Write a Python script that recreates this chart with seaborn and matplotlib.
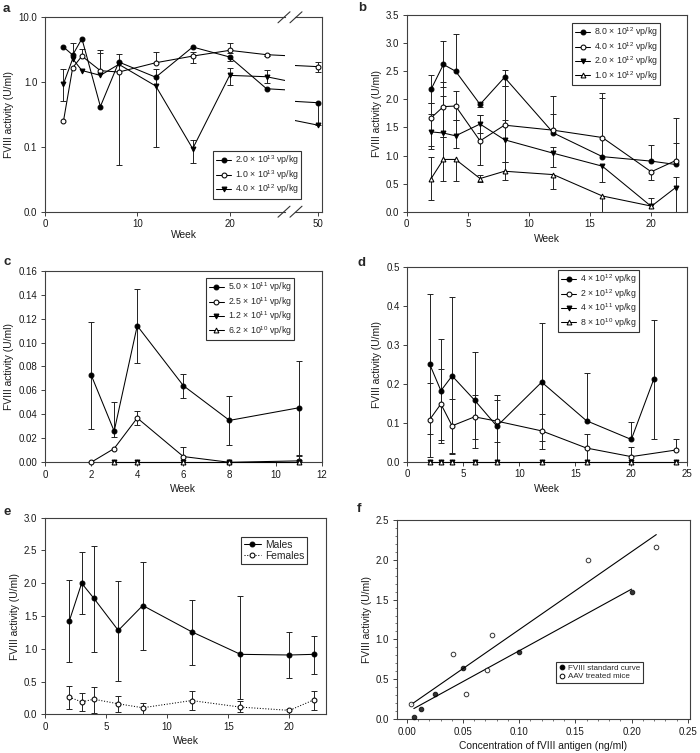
import numpy as np
import pandas as pd
import matplotlib
matplotlib.use("Agg")
import matplotlib.pyplot as plt
import seaborn as sns
from matplotlib.lines import Line2D
from matplotlib.ticker import NullLocator, MultipleLocator

nan = np.nan

# ---------------- data ----------------
# panel a (log scale, broken x axis)
weeks_a = [2, 3, 4, 6, 8, 12, 16, 20, 24, 50]
a_20e13 = [3.48, 2.62, 4.68, 0.42, 2.04, 1.19, 3.48, 2.44, 0.79, 0.48]
a_20e13_lo = [nan, nan, nan, nan, 0.052, nan, nan, 2.10, nan, 0.22]
a_20e13_hi = [nan, 4.0, nan, nan, 2.74, nan, nan, nan, nan, nan]
a_10e13 = [0.25, 1.67, 2.52, 1.50, 1.43, 1.99, 2.52, 3.09, 2.65, 1.73]
a_10e13_lo = [nan, nan, nan, nan, nan, nan, 1.99, 2.80, 2.55, 1.43]
a_10e13_hi = [nan, nan, 3.2, 3.1, nan, 2.94, 2.90, 4.06, 2.75, 2.06]
a_40e12 = [0.94, 2.29, 1.51, 1.27, 1.88, 0.87, 0.094, 1.27, 1.21, 0.216]
a_40e12_lo = [0.51, nan, nan, nan, nan, 0.10, 0.057, 0.90, 0.98, nan]
a_40e12_hi = [1.60, nan, nan, 2.85, nan, 1.60, 0.13, 1.63, 1.53, nan]

# panel b
weeks_b = [2, 3, 4, 6, 8, 12, 16, 20, 22]
b_80e12 = [2.18, 2.62, 2.50, 1.91, 2.39, 1.40, 0.98, 0.90, 0.84]
b_80e12_lo = [1.93, 2.21, nan, 1.87, 2.24, nan, nan, nan, nan]
b_80e12_hi = [2.43, 3.03, 3.17, 1.95, 2.53, 2.05, 2.02, 1.19, 1.22]
b_40e12 = [1.67, 1.87, 1.88, 1.26, 1.54, 1.45, 1.32, 0.71, 0.91]
b_40e12_lo = [1.11, 1.33, 1.63, 0.83, nan, nan, nan, 0.56, nan]
b_40e12_hi = [1.93, 2.31, 2.15, 1.72, 2.24, 1.73, 2.11, nan, 1.66]
b_20e12 = [1.42, 1.40, 1.35, 1.56, 1.28, 1.04, 0.81, 0.095, 0.43]
b_20e12_lo = [1.17, nan, 1.13, 1.40, 0.89, 0.79, 0.52, nan, 0.0]
b_20e12_hi = [1.74, 2.05, 1.64, 1.72, 1.64, 1.15, nan, 0.24, 0.61]
weeks_b4 = [2, 3, 4, 6, 8, 12, 16, 20]
b_10e12 = [0.59, 0.93, 0.93, 0.59, 0.72, 0.66, 0.28, 0.10]
b_10e12_lo = [0.21, 0.54, 0.55, 0.53, 0.56, 0.41, 0.0, nan]
b_10e12_hi = [0.97, 1.33, nan, 0.65, 0.88, nan, nan, nan]

# panel c
weeks_c = [2, 3, 4, 6, 8, 11]
c_50e11 = [0.073, 0.026, 0.114, 0.064, 0.035, 0.0455]
c_50e11_lo = [0.028, 0.021, 0.083, 0.054, 0.0145, 0.006]
c_50e11_hi = [0.117, 0.050, 0.145, 0.074, 0.055, 0.085]
c_25e11 = [0.0, 0.0115, 0.037, 0.0048, 0.0, 0.0012]
c_25e11_lo = [nan, nan, 0.031, nan, nan, nan]
c_25e11_hi = [nan, nan, 0.043, 0.0125, nan, 0.005]
weeks_c2 = [3, 4, 6, 8, 11]
c_12e11 = [0.0, 0.0, 0.0, 0.0, 0.0]
c_62e10 = [0.0, 0.0, 0.0, 0.0, 0.0]

# panel d
weeks_d1 = [2, 3, 4, 6, 8, 12, 16, 20, 22]
d_4e12 = [0.250, 0.182, 0.220, 0.158, 0.091, 0.204, 0.105, 0.057, 0.211]
d_4e12_lo = [0.071, 0.048, 0.023, 0.035, 0.0, 0.052, nan, nan, 0.058]
d_4e12_hi = [0.430, 0.315, 0.422, 0.280, 0.171, 0.355, 0.228, 0.101, 0.364]
weeks_d2 = [2, 3, 4, 6, 8, 12, 16, 20, 24]
d_2e12 = [0.108, 0.148, 0.092, 0.115, 0.104, 0.079, 0.035, 0.013, 0.030]
d_2e12_lo = [0.013, 0.055, 0.020, 0.058, 0.050, 0.033, 0.0, 0.0, nan]
d_2e12_hi = [0.202, 0.238, 0.161, 0.171, 0.159, 0.123, 0.072, 0.038, 0.058]
d_4e11 = [0.0] * 9
d_8e10 = [0.0] * 9

# panel e
weeks_e = [2, 3, 4, 6, 8, 12, 16, 20, 22]
males = [1.43, 2.00, 1.77, 1.28, 1.66, 1.26, 0.915, 0.905, 0.915]
males_lo = [0.80, 1.53, 0.95, 0.51, 0.98, 0.75, 0.23, 0.55, 0.62]
males_hi = [2.05, 2.47, 2.57, 2.03, 2.33, 1.75, 1.80, 1.25, 1.20]
females = [0.26, 0.19, 0.23, 0.16, 0.10, 0.21, 0.11, 0.06, 0.22]
females_lo = [0.08, 0.05, 0.02, 0.04, 0.01, 0.06, 0.03, 0.0, 0.07]
females_hi = [0.43, 0.32, 0.42, 0.28, 0.17, 0.36, 0.20, 0.08, 0.36]

# panel f
std_conc = [0.00625, 0.0125, 0.025, 0.05, 0.1, 0.2]
std_act = [0.03, 0.126, 0.31, 0.64, 0.84, 1.60]
aav_conc = [0.004, 0.041, 0.053, 0.071, 0.076, 0.161, 0.222]
aav_act = [0.19, 0.82, 0.315, 0.61, 1.06, 2.00, 2.16]

# ---------------- style ----------------
sns.set_style("ticks")
plt.rcParams["font.family"] = ["Liberation Sans", "DejaVu Sans"]
plt.rcParams["mathtext.fontset"] = "custom"
plt.rcParams["mathtext.rm"] = "Liberation Sans"
plt.rcParams["mathtext.it"] = "Liberation Sans:italic"
plt.rcParams["mathtext.bf"] = "Liberation Sans:bold"
plt.rcParams.update({
    "axes.edgecolor": "#404040", "axes.linewidth": 0.8,
    "xtick.color": "#404040", "ytick.color": "#404040",
    "xtick.labelcolor": "#1a1a1a", "ytick.labelcolor": "#1a1a1a",
    "xtick.major.size": 3, "ytick.major.size": 3,
    "xtick.major.width": 0.7, "ytick.major.width": 0.7,
    "xtick.major.pad": 2.5, "ytick.major.pad": 2.5,
    "xtick.labelsize": 7, "ytick.labelsize": 7,
    "axes.labelsize": 7.4, "axes.labelcolor": "#1a1a1a",
    "xtick.direction": "out", "ytick.direction": "out",
})

W, H = 700, 753
fig = plt.figure(figsize=(W / 100, H / 100), dpi=100)
EC = "#222222"


def add_ax(l, r, t, b):
    return fig.add_axes([l / W, 1 - b / H, (r - l) / W, (b - t) / H])


def series(ax, x, y, lo, hi, marker, face, label=None, ls="-", clip=False):
    x = np.asarray(x, float)
    y = np.asarray(y, float)
    for b in (lo, hi):
        if b is None:
            continue
        b = np.asarray(b, float)
        m = ~np.isnan(b)
        ax.vlines(x[m], y[m], b[m], color=EC, lw=0.7, zorder=2, clip_on=clip)
        ax.plot(x[m], b[m], ls="none", marker="_", ms=4.6, mew=0.7,
                color=EC, zorder=2, clip_on=clip)
    df = pd.DataFrame({"Week": x, "v": y})
    sns.lineplot(data=df, x="Week", y="v", ax=ax, color="black", lw=0.75,
                 linestyle=ls, marker=marker, markersize=3.5,
                 markerfacecolor=face, markeredgecolor="black",
                 markeredgewidth=0.75, label=label, sort=False,
                 clip_on=clip, zorder=3, legend=False)


LEG_KW = dict(loc="upper left", frameon=True, fancybox=False, framealpha=1,
              edgecolor="#333333", borderpad=0.3, labelspacing=0.08,
              handletextpad=0.4, borderaxespad=0)


def legend(ax, x, y, fs=6.3, handles=None, labels=None, hl=1.8, owner=None):
    if handles is None:
        handles, labels = ax.get_legend_handles_labels()
    target = owner if owner is not None else ax
    lg = target.legend(handles, labels, bbox_to_anchor=(x / W, 1 - y / H),
                       bbox_transform=fig.transFigure, fontsize=fs,
                       handlelength=hl, **LEG_KW)
    lg.get_frame().set_linewidth(0.8)
    return lg


def panel_letter(x, y, s):
    fig.text(x / W, 1 - y / H, s, fontsize=9.5, fontweight="bold",
             ha="left", va="center")


YL = "FVIII activity (U/ml)"

# ---------------- panel a ----------------
axL = add_ax(45, 285, 17.3, 211.7)
axR = add_ax(295, 322, 17.3, 211.7)
labels_a = ["2.0 × 10$^{13}$ vp/kg", "1.0 × 10$^{13}$ vp/kg",
            "4.0 × 10$^{12}$ vp/kg"]
for ax in (axL, axR):
    ax.set_yscale("log")
    ax.set_ylim(0.01, 10)
    series(ax, weeks_a, a_20e13, a_20e13_lo, a_20e13_hi, "o", "black",
           labels_a[0], clip=True)
    series(ax, weeks_a, a_10e13, a_10e13_lo, a_10e13_hi, "o", "white",
           labels_a[1], clip=True)
    series(ax, weeks_a, a_40e12, a_40e12_lo, a_40e12_hi, "v", "black",
           labels_a[2], clip=True)
    ax.yaxis.set_minor_locator(NullLocator())
    ax.set_ylabel("")
    ax.set_xlabel("")
axL.set_xlim(0, 26)
axR.set_xlim(47.48, 50.4)
axL.set_yticks([0.01, 0.1, 1, 10])
axL.set_yticklabels(["0.0", "0.1", "1.0", "10.0"])
axL.yaxis.set_minor_locator(NullLocator())
axL.set_xticks([0, 10, 20])
axR.set_xticks([50])
axL.spines["right"].set_visible(False)
axR.spines["left"].set_visible(False)
axR.tick_params(axis="y", which="both", left=False, labelleft=False)
axL.set_ylabel(YL, labelpad=3)
axL.set_xlabel("Week")
axL.xaxis.set_label_coords((183.5 - 45) / 240, -0.095)
# break marks
for yb in (17.3, 211.7):
    for x0 in (278, 290):
        fig.add_artist(Line2D([x0 / W, (x0 + 12) / W],
                              [1 - (yb + 5.5) / H, 1 - (yb - 5.5) / H],
                              color="#333333", lw=0.8))
ha_, la_ = axL.get_legend_handles_labels()
legend(axL, 213, 151, handles=ha_, labels=la_, owner=fig)
panel_letter(3, 9, "a")

# ---------------- panel b ----------------
axb = add_ax(406.7, 687.3, 15, 211.7)
labels_b = ["8.0 × 10$^{12}$ vp/kg", "4.0 × 10$^{12}$ vp/kg",
            "2.0 × 10$^{12}$ vp/kg", "1.0 × 10$^{12}$ vp/kg"]
series(axb, weeks_b, b_80e12, b_80e12_lo, b_80e12_hi, "o", "black", labels_b[0])
series(axb, weeks_b, b_40e12, b_40e12_lo, b_40e12_hi, "o", "white", labels_b[1])
series(axb, weeks_b, b_20e12, b_20e12_lo, b_20e12_hi, "v", "black", labels_b[2])
series(axb, weeks_b4, b_10e12, b_10e12_lo, b_10e12_hi, "^", "white", labels_b[3])
axb.set_xlim(0, 22.95)
axb.set_ylim(0, 3.5)
axb.set_xticks([0, 5, 10, 15, 20])
axb.set_yticks(np.arange(0, 3.51, 0.5))
axb.set_yticklabels([f"{v:.1f}" for v in np.arange(0, 3.51, 0.5)])
axb.set_xlabel("Week", labelpad=3)
axb.set_ylabel(YL, labelpad=3)
legend(axb, 572, 23)
panel_letter(358, 8, "b")

# ---------------- panel c ----------------
axc = add_ax(45, 321.7, 270.7, 462.3)
labels_c = ["5.0 × 10$^{11}$ vp/kg", "2.5 × 10$^{11}$ vp/kg",
            "1.2 × 10$^{11}$ vp/kg", "6.2 × 10$^{10}$ vp/kg"]
series(axc, weeks_c, c_50e11, c_50e11_lo, c_50e11_hi, "o", "black", labels_c[0])
series(axc, weeks_c, c_25e11, c_25e11_lo, c_25e11_hi, "o", "white", labels_c[1])
series(axc, weeks_c2, c_12e11, None, None, "v", "black", labels_c[2])
series(axc, weeks_c2, c_62e10, None, None, "^", "white", labels_c[3])
axc.set_xlim(0, 12)
axc.set_ylim(0, 0.16)
axc.set_xticks(range(0, 13, 2))
axc.set_yticks(np.arange(0, 0.161, 0.02))
axc.set_yticklabels([f"{v:.2f}" for v in np.arange(0, 0.161, 0.02)])
axc.set_xlabel("Week", labelpad=3)
axc.set_ylabel(YL, labelpad=3)
legend(axc, 206, 278)
panel_letter(3, 262, "c")

# ---------------- panel d ----------------
axd = add_ax(407.3, 687.3, 266.7, 461.7)
labels_d = ["4 × 10$^{12}$ vp/kg", "2 × 10$^{12}$ vp/kg",
            "4 × 10$^{11}$ vp/kg", "8 × 10$^{10}$ vp/kg"]
series(axd, weeks_d1, d_4e12, d_4e12_lo, d_4e12_hi, "o", "black", labels_d[0])
series(axd, weeks_d2, d_2e12, d_2e12_lo, d_2e12_hi, "o", "white", labels_d[1])
series(axd, weeks_d2, d_4e11, None, None, "v", "black", labels_d[2])
series(axd, weeks_d2, d_8e10, None, None, "^", "white", labels_d[3])
axd.set_xlim(0, 25)
axd.set_ylim(0, 0.5)
axd.set_xticks(range(0, 26, 5))
axd.set_yticks(np.arange(0, 0.51, 0.1))
axd.set_yticklabels([f"{v:.1f}" for v in np.arange(0, 0.51, 0.1)])
axd.set_xlabel("Week", labelpad=3)
axd.set_ylabel(YL, labelpad=3)
legend(axd, 558, 270)
panel_letter(358, 263, "d")

# ---------------- panel e ----------------
axe = add_ax(45, 326, 517.7, 714.3)
series(axe, weeks_e, males, males_lo, males_hi, "o", "black", "Males")
series(axe, weeks_e, females, females_lo, females_hi, "o", "white", "Females",
       ls=":")
axe.set_xlim(0, 23)
axe.set_ylim(0, 3.0)
axe.set_xticks([0, 5, 10, 15, 20])
axe.set_yticks(np.arange(0, 3.01, 0.5))
axe.set_yticklabels([f"{v:.1f}" for v in np.arange(0, 3.01, 0.5)])
axe.set_xlabel("Week", labelpad=3)
axe.set_ylabel(YL, labelpad=3)
legend(axe, 241, 537, fs=7.4, hl=1.6)
panel_letter(3, 512, "e")

# ---------------- panel f ----------------
axf = add_ax(396.7, 690, 520, 719)
sns.regplot(x=np.array(std_conc), y=np.array(std_act), ax=axf, ci=None,
            marker="o", color="black",
            scatter_kws=dict(s=11, facecolor="black", edgecolor="black",
                             linewidths=0.7, zorder=3, clip_on=False),
            line_kws=dict(color="black", lw=0.8))
sns.regplot(x=np.array(aav_conc), y=np.array(aav_act), ax=axf, ci=None,
            marker="o", color="black",
            scatter_kws=dict(s=11, facecolor="white", edgecolor="black",
                             linewidths=0.7, zorder=3, clip_on=False),
            line_kws=dict(color="black", lw=0.8))
axf.set_xlim(-0.009, 0.252)
axf.set_ylim(0, 2.5)
axf.set_xticks(np.arange(0, 0.251, 0.05))
axf.set_xticklabels([f"{v:.2f}" for v in np.arange(0, 0.251, 0.05)])
axf.set_yticks(np.arange(0, 2.51, 0.5))
axf.set_yticklabels([f"{v:.1f}" for v in np.arange(0, 2.51, 0.5)])
axf.xaxis.set_minor_locator(MultipleLocator(0.01))
axf.yaxis.set_minor_locator(MultipleLocator(0.1))
axf.tick_params(which="minor", length=1.5, width=0.5)
axf.set_xlabel("Concentration of fVIII antigen (ng/ml)", labelpad=3)
axf.set_ylabel(YL, labelpad=3)
hf = [Line2D([], [], ls="none", marker="o", ms=3.4, mfc="black", mec="black", mew=0.7),
      Line2D([], [], ls="none", marker="o", ms=3.4, mfc="white", mec="black", mew=0.7)]
legend(axf, 556, 662, fs=5.8, handles=hf,
       labels=["FVIII standard curve", "AAV treated mice"], hl=0.8)
panel_letter(357, 509, "f")

fig.savefig("out.png", dpi=100)
